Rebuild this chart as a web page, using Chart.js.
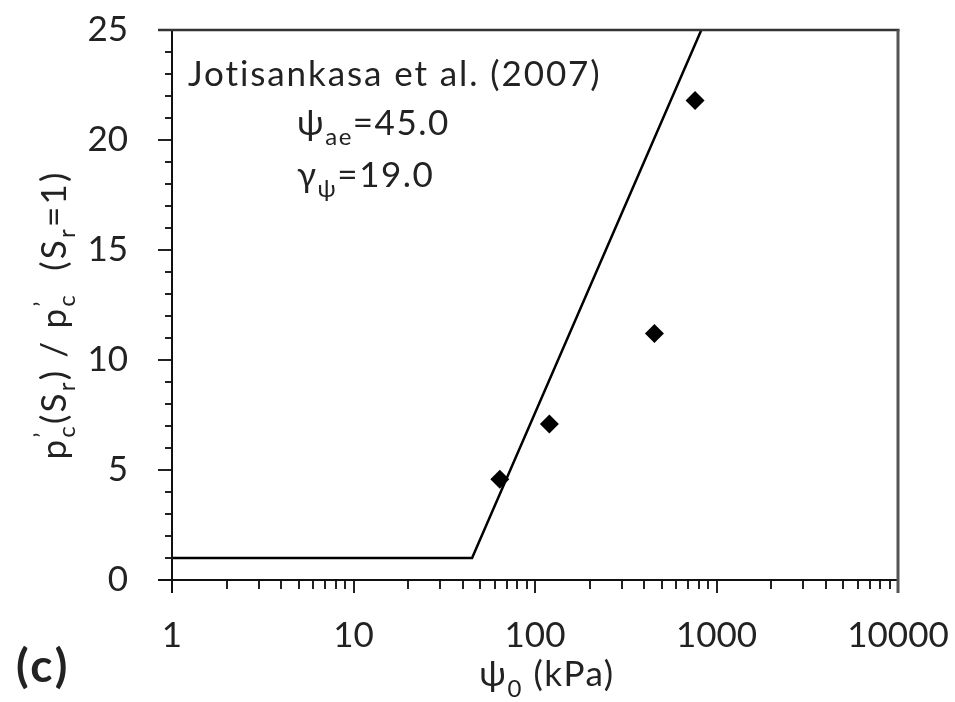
<!DOCTYPE html>
<html>
<head>
<meta charset="utf-8">
<script src="https://cdn.jsdelivr.net/npm/chart.js@4.4.1/dist/chart.umd.min.js"></script>
<style>
  html, body { margin: 0; padding: 0; background: #ffffff; }
  #wrap { width: 955px; height: 702px; position: relative; }
</style>
</head>
<body>
<div id="wrap"><canvas id="chart" width="955" height="702"></canvas></div>
<script>
// Measured initial suction and normalised preconsolidation pressure
const suctionKPa = [64, 120, 455, 762];
const pressureRatio = [4.58, 7.09, 11.2, 21.8];

// Jotisankasa et al. (2007) relation: constant 1 up to the air-entry suction, then rising
const modelSuction = [1, 45, 825];
const modelRatio = [1, 1, 25];

// Axis tick labels
const xTickValues = [1, 10, 100, 1000, 10000];
const yTickValues = [0, 5, 10, 15, 20, 25];

const FONT = "Lato, 'DejaVu Sans', sans-serif";
const INK = '#222222';
const font = (size, bold) => (bold ? 'bold ' : '') + size + 'px ' + FONT;

// Draws a run of text pieces with their own size and vertical shift (sub/superscripts)
function drawRich(ctx, parts, x, y, align, spacing) {
  ctx.letterSpacing = (spacing || 0) + 'px';
  let total = 0;
  const widths = parts.map(p => {
    ctx.font = font(p.size, p.bold);
    const w = ctx.measureText(p.text).width;
    if (p.advance !== false) total += w;
    return w;
  });
  let cx = align === 'center' ? x - total / 2 : x;
  ctx.textAlign = 'left';
  ctx.textBaseline = 'alphabetic';
  parts.forEach((p, i) => {
    ctx.font = font(p.size, p.bold);
    ctx.fillText(p.text, cx, y + (p.dy || 0));
    if (p.advance !== false) cx += widths[i];
  });
  ctx.letterSpacing = '0px';
}

function seg(ctx, x1, y1, x2, y2) {
  ctx.beginPath();
  ctx.moveTo(x1, y1);
  ctx.lineTo(x2, y2);
  ctx.stroke();
}

// Frame, tick marks, titles and the model annotation
const framePlugin = {
  id: 'frame',
  afterDraw(chart) {
    const { ctx, chartArea: a, scales: { x, y } } = chart;
    const L = a.left, R = a.right, T = a.top, B = a.bottom;
    ctx.save();
    ctx.lineCap = 'butt';

    // y ticks: every unit, longer at labelled values
    ctx.strokeStyle = INK;
    ctx.lineWidth = 2;
    for (let v = y.min; v <= y.max; v += 1) {
      const py = Math.round(y.getPixelForValue(v));
      const len = yTickValues.includes(v) ? 14 : 7;
      seg(ctx, L - len, py, L, py);
    }

    // x ticks: decades long, 2..9 short
    for (let d = x.min; d < x.max; d *= 10) {
      for (let k = 2; k <= 9; k++) {
        const px = Math.round(x.getPixelForValue(k * d));
        seg(ctx, px, B, px, B + 9);
      }
    }
    xTickValues.forEach(v => {
      const px = Math.round(x.getPixelForValue(v));
      seg(ctx, px, B - 1, px, B + 13);
    });

    // axes and box
    ctx.lineWidth = 2;
    ctx.strokeStyle = '#111111';
    seg(ctx, L, T, L, B + 13);
    seg(ctx, L - 14, B, R, B);
    ctx.strokeStyle = '#333333';
    ctx.lineWidth = 2.5;
    seg(ctx, L - 14, T, R + 1.5, T);
    ctx.strokeStyle = '#555555';
    ctx.lineWidth = 3;
    seg(ctx, R, T, R, B + 13);

    ctx.fillStyle = INK;

    // model annotation
    const M = 35, S = 24;
    drawRich(ctx, [{ text: 'Jotisankasa et al. (2007)', size: M }], L + 16, T + 56, 'left', 1.9);
    drawRich(ctx, [
      { text: '\u03C8', size: M },
      { text: 'ae', size: S, dy: 10 },
      { text: '=45.0', size: M }
    ], L + 125, T + 105, 'left', 1.5);
    drawRich(ctx, [
      { text: '\u03B3', size: M },
      { text: '\u03C8', size: S, dy: 10 },
      { text: '=19.0', size: M }
    ], L + 125, T + 157, 'left', 1.5);

    // x axis title
    drawRich(ctx, [
      { text: '\u03C8', size: M },
      { text: '0', size: S, dy: 11 },
      { text: ' (kPa)', size: M }
    ], (L + R) / 2 + 12, 686, 'center', 1.5);

    // y axis title
    ctx.save();
    ctx.translate(66, (T + B) / 2 + 10);
    ctx.rotate(-Math.PI / 2);
    drawRich(ctx, [
      { text: 'p', size: M },
      { text: '\u2019', size: S, dy: -15, advance: false },
      { text: 'c', size: S, dy: 9 },
      { text: '(S', size: M },
      { text: 'r', size: S, dy: 9 },
      { text: ') / p', size: M },
      { text: '\u2019', size: S, dy: -15, advance: false },
      { text: 'c', size: S, dy: 9 },
      { text: '  (S', size: M },
      { text: 'r', size: S, dy: 9 },
      { text: '=1)', size: M }
    ], 0, 0, 'center', 2.2);
    ctx.restore();

    // panel label
    drawRich(ctx, [{ text: '(c)', size: 46, bold: true }], 16, 682, 'left', 3);

    ctx.restore();
  }
};

new Chart(document.getElementById('chart'), {
  type: 'scatter',
  data: {
    datasets: [
      {
        label: 'Jotisankasa et al. (2007)',
        data: modelSuction.map((v, i) => ({ x: v, y: modelRatio[i] })),
        showLine: true,
        borderColor: '#000000',
        borderWidth: 2.5,
        pointRadius: 0,
        fill: false,
        tension: 0
      },
      {
        label: 'Measured',
        data: suctionKPa.map((v, i) => ({ x: v, y: pressureRatio[i] })),
        pointStyle: 'rectRot',
        pointRadius: 9.5,
        pointBackgroundColor: '#000000',
        pointBorderColor: '#000000',
        pointBorderWidth: 0,
        showLine: false
      }
    ]
  },
  options: {
    responsive: false,
    animation: false,
    devicePixelRatio: 1,
    layout: { padding: { top: 30, right: 57, left: 0, bottom: 0 } },
    plugins: { legend: { display: false }, tooltip: { enabled: false } },
    scales: {
      x: {
        type: 'logarithmic',
        min: 1,
        max: 10000,
        afterBuildTicks: s => { s.ticks = xTickValues.map(v => ({ value: v })); },
        afterFit: s => { s.height = 122; },
        ticks: {
          autoSkip: false,
          maxRotation: 0,
          padding: 0,
          color: INK,
          font: { family: FONT, size: 35 },
          callback: v => String(v)
        },
        grid: { display: false, drawTicks: true, tickLength: 35 },
        border: { display: false }
      },
      y: {
        type: 'linear',
        min: 0,
        max: 25,
        afterBuildTicks: s => { s.ticks = yTickValues.map(v => ({ value: v })); },
        afterFit: s => { s.width = 172; },
        ticks: {
          padding: 0,
          color: INK,
          font: { family: FONT, size: 35 }
        },
        grid: { display: false, drawTicks: true, tickLength: 44 },
        border: { display: false }
      }
    }
  },
  plugins: [framePlugin]
});
</script>
</body>
</html>
